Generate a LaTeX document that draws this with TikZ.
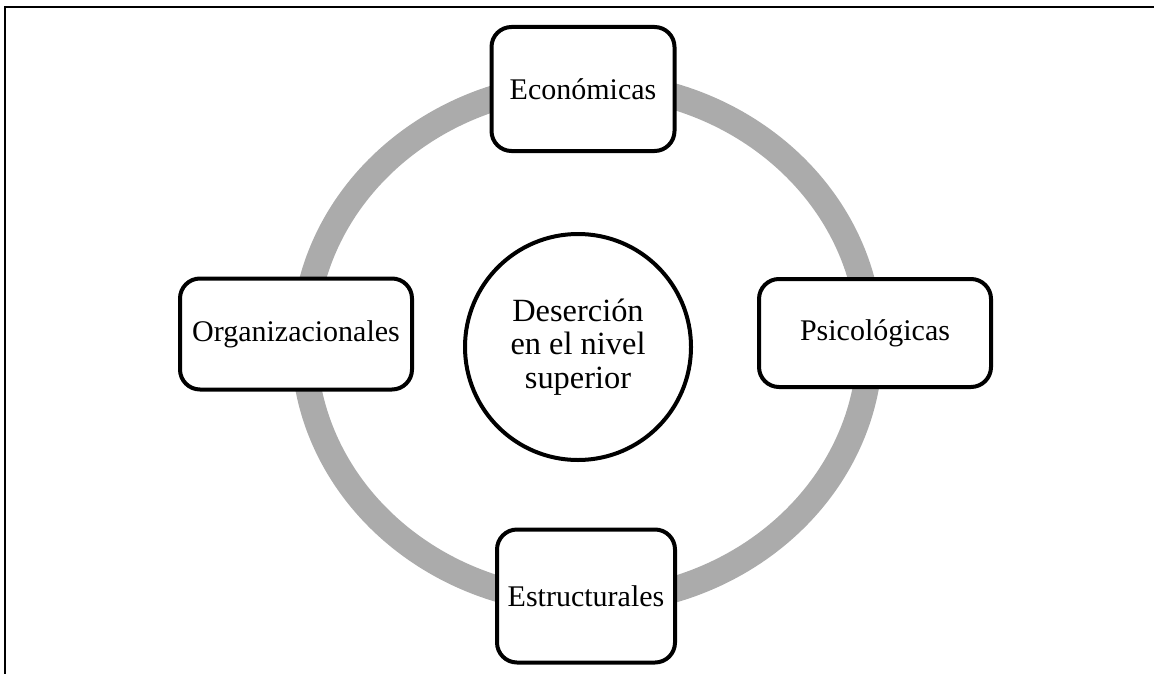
\documentclass[tikz,border=0pt]{standalone}
\usepackage{fontspec}
\setmainfont{Liberation Serif}
\usepackage{tikz}

\begin{document}
\begin{tikzpicture}[x=.5pt, y=-.5pt, every node/.style={font=\fontsize{15}{16.3}\selectfont},
		factor/.style={draw, line width=2pt, rounded corners=10pt, fill=white, inner sep=0pt},
		core/.style={draw, circle, line width=2pt, fill=white, inner sep=0pt, minimum size=113pt, align=center, font=\fontsize{16.2}{16.6}\selectfont},
		ring/.style={draw=black!33, line width=13pt}]
		\useasboundingbox (0,0) rectangle (1154,674);
		\draw[line width=1.1pt] (1154,7) -- (5,7) -- (5,674);
		\coordinate (ringC) at (587,343);
		\draw[ring] (ringC) ellipse [x radius=141.5pt, y radius=129.5pt];
		\node (central) [core] at (578,347) {Deserción\\en el nivel\\superior};
		\node (economicas) [factor, minimum width=91.5pt, minimum height=62pt] at (583,89) {Económicas};
		\node (psicologicas) [factor, minimum width=116pt, minimum height=54pt] at (875,333) {Psicológicas};
		\node (estructurales) [factor, minimum width=89pt, minimum height=66.5pt] at (586,596) {Estructurales};
		\node (organizacionales) [factor, minimum width=116pt, minimum height=55.5pt] at (296,334) {Organizacionales};
	\end{tikzpicture}
\end{document}
